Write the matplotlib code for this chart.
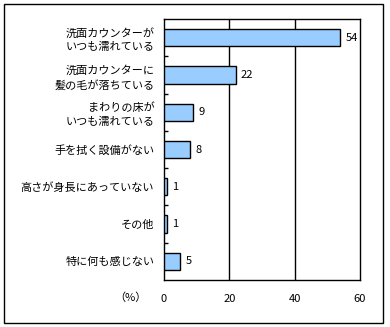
import matplotlib
matplotlib.use('Agg')
import matplotlib.pyplot as plt
from matplotlib.patches import Rectangle

plt.rcParams['font.family'] = ['Noto Sans CJK JP', 'DejaVu Sans']

# Survey answers, top to bottom
categories = [
    '洗面カウンターが\nいつも濡れている',
    '洗面カウンターに\n髪の毛が落ちている',
    'まわりの床が\nいつも濡れている',
    '手を拭く設備がない',
    '高さが身長にあっていない',
    'その他',
    '特に何も感じない',
]
values = [54, 22, 9, 8, 1, 1, 5]
xticks = [0, 20, 40, 60]

W, H = 390, 327
fig = plt.figure(figsize=(W / 100, H / 100), dpi=100)

# outer frame around the whole chart
fig.patches.append(Rectangle((4 / W, 1 - 323 / H), 379 / W, 319 / H,
                             transform=fig.transFigure, fill=False,
                             edgecolor='black', linewidth=1))

left, right, top, bottom = 164, 360, 19, 280
ax = fig.add_axes([left / W, 1 - bottom / H, (right - left) / W, (bottom - top) / H])

n = len(categories)
ypos = list(range(n))
ax.barh(ypos, values, height=0.46, color='#99CCFF', edgecolor='black',
        linewidth=1, zorder=3)
for y, v in zip(ypos, values):
    ax.text(v + 1.5, y, str(v), va='center', ha='left', fontsize=8)

ax.set_xlim(0, 60)
ax.set_ylim(n - 0.5, -0.5)
ax.set_xticks(xticks)
ax.set_xticklabels([str(t) for t in xticks], fontsize=8)
ax.tick_params(axis='x', length=0, pad=10)
for t in xticks[1:-1]:
    ax.axvline(t, color='black', linewidth=1, zorder=1)

# category boundary ticks on the left axis
ax.set_yticks([i + 0.5 for i in range(n - 1)], minor=True)
ax.tick_params(axis='y', which='minor', direction='in', length=3, width=1)
ax.set_yticks(ypos)
ax.set_yticklabels(categories, fontsize=8, linespacing=1.4, ha='right')
ax.tick_params(axis='y', which='major', length=0, pad=7)

for s in ax.spines.values():
    s.set_linewidth(1)

fig.text(130 / W, 1 - 298 / H, '（%）', ha='center', va='center', fontsize=8)

fig.savefig('out.png', dpi=100)
